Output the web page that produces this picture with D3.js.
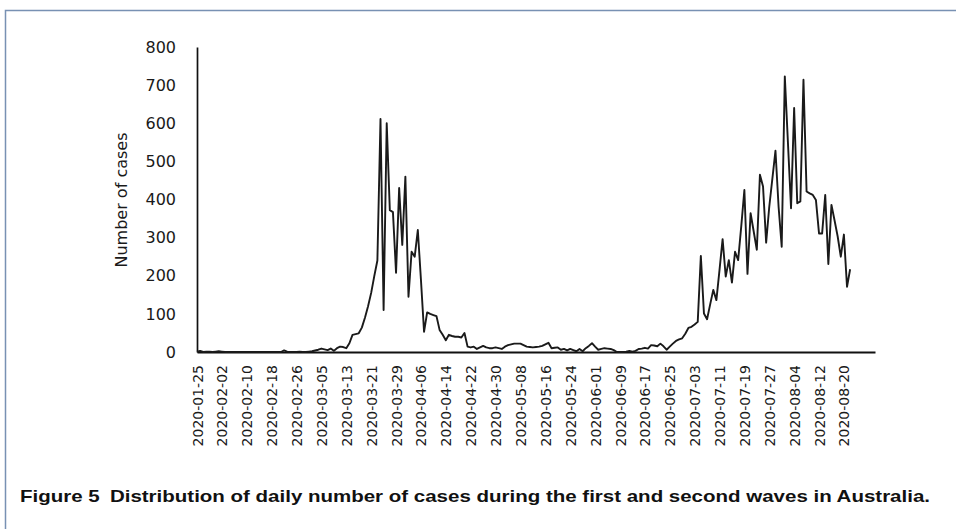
<!DOCTYPE html>
<html><head><meta charset="utf-8">
<script src="https://cdn.jsdelivr.net/npm/d3@7"></script>
<style>body{margin:0;background:#fff;} svg{display:block;}</style>
</head><body>
<svg id="chart" width="956" height="529"></svg>
<script>
// ---- data ----
const startDate = "2020-01-25";
const axisEndDate = "2020-08-30";
const dailyCases = [
  1, 3, 0, 1, 1, 0, 1, 2, 1, 0,
  0, 0, 0, 0, 0, 0, 0, 0, 0, 0,
  0, 0, 0, 0, 0, 0, 0, 0, 4, 1,
  0, 0, 0, 1, 0, 0, 1, 2, 4, 6,
  9, 7, 5, 9, 3, 10, 14, 13, 10, 23,
  45, 47, 49, 64, 90, 120, 155, 199, 240, 611,
  110, 600, 372, 367, 208, 430, 281, 460, 145, 263,
  250, 320, 190, 53, 104, 100, 97, 94, 58, 45,
  31, 45, 42, 40, 40, 38, 50, 14, 12, 14,
  8, 12, 16, 12, 10, 10, 12, 10, 8, 14,
  18, 20, 22, 22, 22, 18, 14, 13, 12, 13,
  14, 16, 20, 24, 10, 11, 12, 6, 8, 4,
  8, 5, 2, 8, 2, 10, 16, 23, 14, 6,
  8, 10, 9, 8, 5, 0, 0, 0, 1, 3,
  1, 3, 8, 9, 11, 9, 18, 17, 15, 22,
  15, 6, 14, 22, 29, 33, 36, 48, 63, 66,
  72, 79, 252, 101, 86, 125, 163, 136, 215, 296,
  198, 241, 182, 263, 241, 330, 425, 205, 364, 316,
  268, 465, 434, 287, 381, 455, 528, 381, 276, 723,
  550, 377, 640, 390, 395, 714, 421, 416, 412, 399,
  311, 311, 412, 231, 386, 345, 303, 250, 308, 171, 217
];
const yTicks = [0, 100, 200, 300, 400, 500, 600, 700, 800];
const xTickLabels = [
  "2020-01-25","2020-02-02","2020-02-10","2020-02-18","2020-02-26",
  "2020-03-05","2020-03-13","2020-03-21","2020-03-29","2020-04-06",
  "2020-04-14","2020-04-22","2020-04-30","2020-05-08","2020-05-16",
  "2020-05-24","2020-06-01","2020-06-09","2020-06-17","2020-06-25",
  "2020-07-03","2020-07-11","2020-07-19","2020-07-27","2020-08-04",
  "2020-08-12","2020-08-20"
];
const yLabel = "Number of cases";
const captionLead = "Figure 5";
const captionText = "Distribution of daily number of cases during the first and second waves in Australia.";

// ---- drawing ----
const svg = d3.select("#chart");
const parse = d3.utcParse("%Y-%m-%d");
const t0 = parse(startDate);
const data = dailyCases.map((v, i) => ({ date: d3.utcDay.offset(t0, i), value: v }));

const x = d3.scaleUtc().domain([t0, parse(axisEndDate)]).range([197, 875]);
const y = d3.scaleLinear().domain([0, 800]).range([352, 47]);

// frame
svg.append("rect").attr("x", 5.5).attr("y", 10.5).attr("width", 1000).attr("height", 1000)
  .attr("fill", "none").attr("stroke", "#7891b3").attr("stroke-width", 1.5);

const font = "DejaVu Sans, Verdana, sans-serif";

// y axis
const gy = svg.append("g").attr("transform", "translate(197,0)")
  .call(d3.axisLeft(y).tickValues(yTicks).tickSize(0).tickSizeOuter(0).tickPadding(21));
gy.select(".domain").attr("stroke", "#111").attr("stroke-width", 1.7);
gy.selectAll("text").attr("font-family", font).attr("font-size", 16).attr("fill", "#1a1a1a");

// x axis
const gx = svg.append("g").attr("transform", "translate(0,352)")
  .call(d3.axisBottom(x).tickValues(xTickLabels.map(parse)).tickSize(0).tickSizeOuter(0)
    .tickFormat(d3.utcFormat("%Y-%m-%d")));
gx.select(".domain").attr("stroke", "#111").attr("stroke-width", 2);
gx.selectAll("text")
  .attr("font-family", font).attr("font-size", 14).attr("fill", "#1a1a1a")
  .attr("text-anchor", "end")
  .attr("transform", "rotate(-90)")
  .attr("x", -13).attr("y", 0).attr("dy", "0.36em");

// line
const line = d3.line().x(d => x(d.date)).y(d => y(d.value));
svg.append("path").datum(data).attr("d", line)
  .attr("fill", "none").attr("stroke", "#1a1a1a").attr("stroke-width", 1.9)
  .attr("stroke-linejoin", "round");

// y label
svg.append("text").attr("transform", "translate(127,200) rotate(-90)")
  .attr("text-anchor", "middle").attr("font-family", font).attr("font-size", 16)
  .attr("fill", "#1a1a1a").text(yLabel);

// caption
const cap = svg.append("text").attr("x", 20).attr("y", 502)
  .attr("font-family", "Liberation Sans, Arial, sans-serif").attr("font-weight", "bold")
  .attr("font-size", 17).attr("fill", "#111")
  .attr("textLength", 910).attr("lengthAdjust", "spacingAndGlyphs");
cap.append("tspan").text(captionLead + "\u2002");
cap.append("tspan").text(captionText);
</script>
</body></html>
